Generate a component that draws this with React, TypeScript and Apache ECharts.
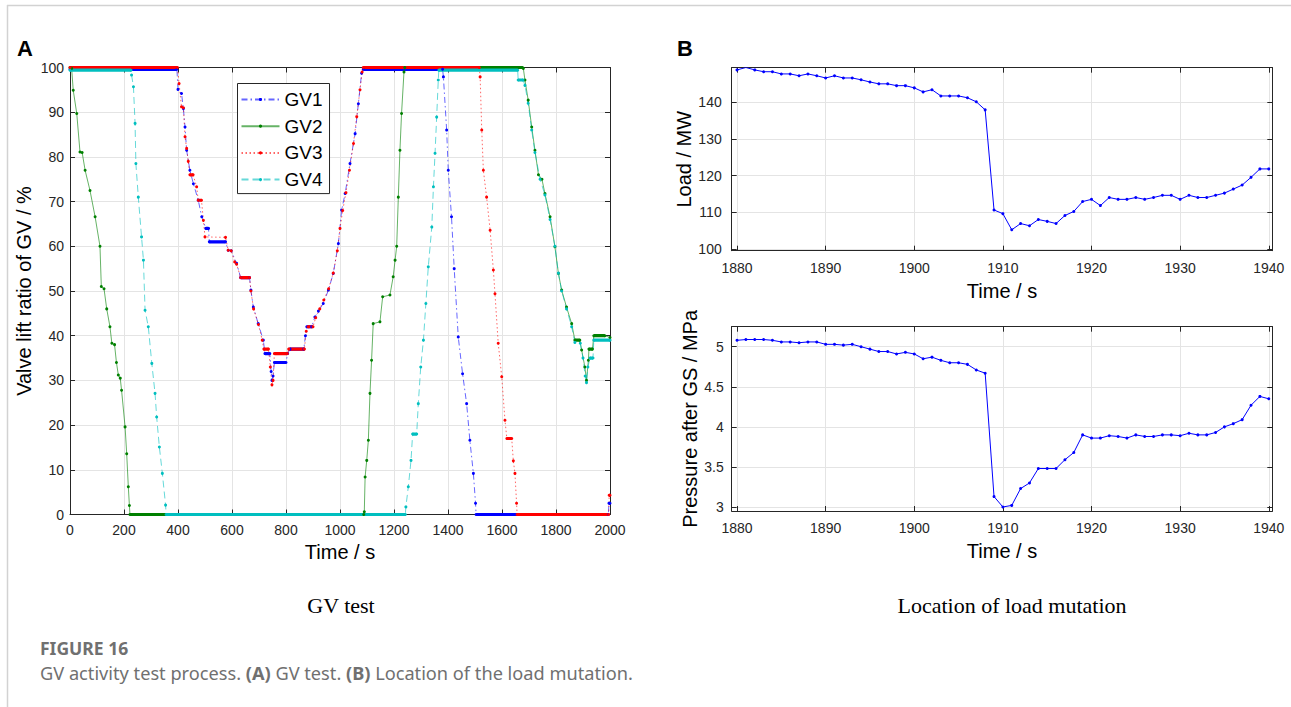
import React, { useEffect, useRef } from "react";
import * as echarts from "echarts";

// ---------- Data ----------
// GV valve lift ratio, [time s, lift %]
const gv1: [number, number][] = [
  [0, 99.6], [396, 99.6], [400, 95.1], [413, 94.2], [420, 90.8], [426, 86.7], [432, 81.5], [444, 77], [457, 74],
  [475, 70.3], [488, 66.6], [503, 64], [513, 64], [516, 61], [576, 61], [586, 59.1], [597, 59], [617, 56.2],
  [632, 53], [665, 53], [670, 50.2], [679, 46.4], [697, 42.7], [716, 39], [722, 36], [740, 36], [745, 32],
  [748, 30], [752, 31], [757, 34], [800, 34], [806, 36], [815, 37], [866, 37], [872, 40], [877, 42], [895, 42],
  [907, 44.2], [920, 45.5], [938, 47.2], [957, 50.2], [975, 53.9], [994, 60.6], [1006, 68.1], [1019, 71.8],
  [1037, 78.5], [1056, 85.2], [1068, 91.9], [1080, 98.7], [1086, 99.6], [1380, 99.6], [1383, 97.9], [1395, 86],
  [1401, 77], [1413, 66.6], [1423, 55], [1438, 39.7], [1454, 31.5], [1469, 24.8], [1481, 16.6], [1494, 9.2],
  [1502, 2.5], [1504, 0], [1994, 0], [1996, 2.5], [2000, 2.5],
];
const gv2: [number, number][] = [
  [0, 100], [6, 99.8], [12, 94.9], [25, 89.7], [37, 81.1], [45, 81], [56, 77], [74, 72.5], [93, 66.6], [111, 60],
  [116, 51], [126, 50.5], [136, 46], [148, 42], [155, 38.3], [165, 38], [172, 34], [179, 31.2], [186, 30.5],
  [191, 27.8], [204, 19.6], [210, 13.6], [216, 6.2], [220, 2], [222, 0], [1088, 0], [1090, 0.6], [1093, 8.4],
  [1099, 12.1], [1105, 16.6], [1111, 27.1], [1117, 34.5], [1123, 42.7], [1148, 43.1], [1158, 48.7], [1185, 49.1],
  [1197, 53.2], [1204, 56.9], [1210, 60], [1216, 71], [1222, 81.5], [1228, 89.7], [1237, 99], [1240, 100],
  [1676, 100], [1679, 99.8], [1685, 97.2], [1697, 92.7], [1710, 86.7], [1722, 81.5], [1735, 76], [1748, 75],
  [1759, 71.8], [1778, 66.6], [1796, 59.9], [1809, 53.9], [1821, 50.2], [1839, 46.4], [1858, 42.7], [1870, 39],
  [1888, 39], [1895, 36.8], [1907, 33], [1913, 30], [1920, 34.5], [1922, 37], [1935, 37], [1940, 40], [1981, 40],
  [2000, 39.6],
];
const gv3: [number, number][] = [
  [0, 100], [398, 100], [404, 96.4], [413, 91.2], [420, 91], [426, 84.5], [432, 81.9], [438, 79], [444, 76],
  [456, 76], [469, 73.3], [475, 70.3], [487, 70.3], [494, 65.8], [500, 62.1], [576, 62], [586, 59.1], [597, 59],
  [610, 56.5], [617, 56], [632, 53], [665, 53], [670, 50], [680, 46], [698, 42.5], [712, 39], [718, 37], [735, 37],
  [742, 33], [748, 29], [752, 30], [757, 36], [805, 36], [810, 37], [868, 37], [875, 41], [882, 42], [900, 42],
  [910, 44], [925, 46], [940, 48], [958, 50.5], [975, 54], [990, 59], [1000, 64], [1010, 68], [1022, 72],
  [1035, 77], [1050, 83], [1062, 89], [1074, 95], [1082, 99], [1086, 100], [1516, 100], [1519, 97.9], [1525, 86],
  [1531, 77], [1543, 71], [1556, 63.6], [1568, 54.7], [1574, 49.4], [1586, 38.3], [1599, 30.8], [1611, 21.1],
  [1618, 17], [1636, 17], [1642, 12], [1648, 9.2], [1654, 2.5], [1656, 0], [1995, 0], [1997, 4.3], [2000, 4.3],
];
const gv4: [number, number][] = [
  [0, 99.4], [226, 99.4], [228, 98.3], [235, 95.7], [241, 87.5], [244, 78.5], [253, 71], [265, 62.1], [272, 56.9],
  [278, 45.7], [290, 42], [303, 33.8], [315, 27.1], [321, 21.8], [331, 15.1], [342, 9.2], [354, 2.1], [356, 0],
  [1242, 0], [1244, 1.7], [1253, 6.2], [1263, 12.1], [1269, 18], [1284, 18], [1290, 24.8], [1299, 33], [1309, 39],
  [1318, 47.2], [1327, 55.4], [1340, 64.3], [1346, 73.3], [1352, 80.8], [1358, 88.9], [1364, 97.2], [1366, 99.4],
  [1658, 99.4], [1660, 97.2], [1678, 97.2], [1685, 96], [1697, 92], [1710, 86], [1722, 81], [1741, 75],
  [1759, 71.5], [1778, 66], [1796, 60], [1809, 54], [1821, 50], [1839, 46], [1858, 42], [1870, 38.5], [1890, 38.3],
  [1900, 35], [1908, 31], [1913, 29.5], [1918, 33], [1926, 35], [1937, 35], [1940, 39], [2000, 39],
];

// Load mutation detail
const muTime = [
  1880, 1881, 1882, 1883, 1884, 1885, 1886, 1887, 1888, 1889,
  1890, 1891, 1892, 1893, 1894, 1895, 1896, 1897, 1898, 1899,
  1900, 1901, 1902, 1903, 1904, 1905, 1906, 1907, 1908, 1909,
  1910, 1911, 1912, 1913, 1914, 1915, 1916, 1917, 1918, 1919,
  1920, 1921, 1922, 1923, 1924, 1925, 1926, 1927, 1928, 1929,
  1930, 1931, 1932, 1933, 1934, 1935, 1936, 1937, 1938, 1939,
  1940,
];
const loadMW = [
  148.8, 149.45, 148.8, 148.3, 148.3, 147.7, 147.7, 147.2, 147.7, 147.2,
  146.6, 147.2, 146.6, 146.6, 146.1, 145.5, 145.0, 145.0, 144.5, 144.5,
  143.9, 142.8, 143.4, 141.7, 141.7, 141.7, 141.2, 140.1, 137.9, 110.6,
  109.6, 105.2, 106.9, 106.3, 108.0, 107.5, 106.9, 109.1, 110.2, 112.9,
  113.5, 111.8, 114.0, 113.5, 113.5, 114.0, 113.5, 114.0, 114.6, 114.6,
  113.5, 114.6, 114.0, 114.0, 114.6, 115.2, 116.3, 117.4, 119.5, 121.8,
  121.8,
];
const pressureMPa = [
  5.08, 5.09, 5.09, 5.09, 5.08, 5.06, 5.06, 5.05, 5.06, 5.06,
  5.03, 5.03, 5.02, 5.03, 5.0, 4.97, 4.94, 4.94, 4.91, 4.93,
  4.91, 4.85, 4.87, 4.83, 4.8, 4.8, 4.78, 4.71, 4.67, 3.13,
  3.0, 3.02, 3.23, 3.3, 3.48, 3.48, 3.48, 3.59, 3.68, 3.9,
  3.86, 3.86, 3.89, 3.88, 3.86, 3.9, 3.88, 3.88, 3.9, 3.9,
  3.89, 3.92, 3.9, 3.9, 3.93, 4.0, 4.04, 4.09, 4.27, 4.38,
  4.35,
];

const gvNames = ["GV1", "GV2", "GV3", "GV4"];
const gvColors = ["#0000ff", "#008000", "#ff0000", "#00bfbf"];
const gvDashes: any[] = [[6, 3, 1.5, 3], "solid", [1.5, 2.5], [7, 4]];
const gvData = [gv1, gv2, gv3, gv4];

const FONT = "'Liberation Sans', Arial, Helvetica, sans-serif";
const AX = "#262626";
const GRID = "#e4e4e4";
const plain = (v: number) => String(v);

// segments where the valve holds still (dense samples look like a thick bar)
function holds(d: [number, number][]) {
  const out: any[] = [];
  for (let i = 0; i < d.length - 1; i++) {
    if (d[i][1] === d[i + 1][1]) {
      out.push(d[i], d[i + 1], [d[i + 1][0], null]);
    }
  }
  return out;
}

function xAxes(grid: number, min: number, max: number, interval: number | undefined, split: number | undefined, showEdge: boolean, nameGap: number, labelMargin: number) {
  const common: any = {
    type: "value",
    gridIndex: grid,
    min,
    max,
    axisLine: { show: true, onZero: false, lineStyle: { color: AX, width: 1 } },
    axisTick: { show: true, inside: true, length: 5, lineStyle: { color: AX } },
  };
  if (interval !== undefined) common.interval = interval;
  if (split !== undefined) common.splitNumber = split;
  return [
    {
      ...common,
      position: "bottom",
      axisLabel: { color: AX, fontSize: 14, fontFamily: FONT, margin: labelMargin, showMinLabel: showEdge, showMaxLabel: showEdge, formatter: plain },
      splitLine: { show: true, lineStyle: { color: GRID, width: 1 } },
      name: "Time / s",
      nameLocation: "middle",
      nameGap,
      nameTextStyle: { color: "#000", fontSize: 20, fontFamily: FONT },
    },
    { ...common, position: "top", axisLabel: { show: false }, splitLine: { show: false } },
  ];
}

function yAxes(grid: number, min: number, max: number, interval: number | undefined, split: number | undefined, showEdge: boolean, name: string, nameGap: number, labelMargin: number) {
  const common: any = {
    type: "value",
    gridIndex: grid,
    min,
    max,
    axisLine: { show: true, onZero: false, lineStyle: { color: AX, width: 1 } },
    axisTick: { show: true, inside: true, length: 5, lineStyle: { color: AX } },
  };
  if (interval !== undefined) common.interval = interval;
  if (split !== undefined) common.splitNumber = split;
  return [
    {
      ...common,
      position: "left",
      axisLabel: { color: AX, fontSize: 14, fontFamily: FONT, margin: labelMargin, showMinLabel: showEdge, showMaxLabel: showEdge, formatter: plain },
      splitLine: { show: true, lineStyle: { color: GRID, width: 1 } },
      name,
      nameLocation: "middle",
      nameGap,
      nameTextStyle: { color: "#000", fontSize: 20, fontFamily: FONT },
    },
    { ...common, position: "right", axisLabel: { show: false }, splitLine: { show: false } },
  ];
}

export default function App() {
  const ref = useRef<HTMLDivElement>(null);

  useEffect(() => {
    if (!ref.current) return;
    const chart = echarts.init(ref.current, undefined, { renderer: "svg" });

    const series: any[] = [];
    gvData.forEach((d, i) => {
      series.push({
        type: "line",
        name: gvNames[i],
        xAxisIndex: 0,
        yAxisIndex: 0,
        data: d,
        symbol: "circle",
        symbolSize: 3,
        showSymbol: true,
        itemStyle: { color: gvColors[i] },
        lineStyle: { color: gvColors[i], width: 1, type: gvDashes[i], opacity: 0.6 },
        z: 2,
      });
      series.push({
        type: "line",
        name: gvNames[i] + " hold",
        xAxisIndex: 0,
        yAxisIndex: 0,
        data: holds(d),
        symbol: "none",
        connectNulls: false,
        lineStyle: { color: gvColors[i], width: 3.2 },
        z: 2,
      });
    });
    series.push({
      type: "line",
      name: "Load",
      xAxisIndex: 2,
      yAxisIndex: 2,
      data: muTime.map((t, i) => [t, loadMW[i]]),
      symbol: "circle",
      symbolSize: 3,
      itemStyle: { color: "#0000ff" },
      lineStyle: { color: "#0000ff", width: 1 },
    });
    series.push({
      type: "line",
      name: "Pressure",
      xAxisIndex: 4,
      yAxisIndex: 4,
      data: muTime.map((t, i) => [t, pressureMPa[i]]),
      symbol: "circle",
      symbolSize: 3,
      itemStyle: { color: "#0000ff" },
      lineStyle: { color: "#0000ff", width: 1 },
    });

    const option: any = {
      animation: false,
      backgroundColor: "#ffffff",
      grid: [
        { left: 70, top: 67.5, width: 540, height: 447 },
        { left: 731.7, top: 67.7, width: 540.6, height: 183 },
        { left: 731.7, top: 326.7, width: 540.6, height: 184.3 },
      ],
      xAxis: [
        ...xAxes(0, 0, 2000, 200, undefined, true, 27, 8),
        ...xAxes(1, 1879.4, 1940.4, undefined, 6, false, 30, 10),
        ...xAxes(2, 1879.4, 1940.4, undefined, 6, false, 30, 10),
      ],
      yAxis: [
        ...yAxes(0, 0, 100, 10, undefined, true, "Valve lift ratio of GV / %", 36, 6),
        ...yAxes(1, 99.5, 149.4, undefined, 5, false, "Load / MW", 36, 10),
        ...yAxes(2, 2.95, 5.25, undefined, 5, false, "Pressure after GS / MPa", 32, 8),
      ],
      legend: {
        data: gvNames,
        orient: "vertical",
        left: 237.5,
        top: 83.5,
        itemWidth: 38,
        itemHeight: 4,
        itemGap: 6.7,
        padding: [6, 7, 4, 3],
        backgroundColor: "#ffffff",
        borderColor: AX,
        borderWidth: 1,
        selectedMode: false,
        textStyle: { color: "#000", fontSize: 19, fontFamily: FONT, lineHeight: 20 },
      },
      series,
      graphic: [
        { type: "line", shape: { x1: 7, y1: 5.5, x2: 1291, y2: 5.5 }, style: { stroke: "#d2d2d2", lineWidth: 1.5 }, silent: true },
        { type: "line", shape: { x1: 7.5, y1: 5, x2: 7.5, y2: 707 }, style: { stroke: "#d2d2d2", lineWidth: 1.5 }, silent: true },
        { type: "text", x: 17, y: 48, style: { text: "A", font: "bold 22px " + FONT, fill: "#000", verticalAlign: "middle" } },
        { type: "text", x: 677, y: 48, style: { text: "B", font: "bold 22px " + FONT, fill: "#000", verticalAlign: "middle" } },
        { type: "text", x: 341, y: 605, style: { text: "GV test", font: "22px 'Liberation Serif', 'Times New Roman', serif", fill: "#000", align: "center", verticalAlign: "middle" } },
        { type: "text", x: 1012, y: 605, style: { text: "Location of load mutation", font: "22px 'Liberation Serif', 'Times New Roman', serif", fill: "#000", align: "center", verticalAlign: "middle" } },
        { type: "text", x: 40, y: 648, style: { text: "FIGURE 16", font: "bold 17.5px 'Noto Sans', sans-serif", fill: "#707070", verticalAlign: "middle" } },
        {
          type: "text",
          x: 40,
          y: 673,
          style: {
            text: "GV activity test process. {b|(A)} GV test. {b|(B)} Location of the load mutation.",
            font: "18.2px 'Noto Sans', sans-serif",
            fill: "#707070",
            verticalAlign: "middle",
            rich: { b: { fontWeight: "bold", fontSize: 18.2, fontFamily: "'Noto Sans', sans-serif", fill: "#707070" } },
          },
        },
      ],
    };
    chart.setOption(option);
    return () => chart.dispose();
  }, []);

  return (
    <div
      ref={ref}
      style={{ position: "fixed", left: 0, top: 0, width: 1291, height: 707, background: "#fff" }}
    />
  );
}
